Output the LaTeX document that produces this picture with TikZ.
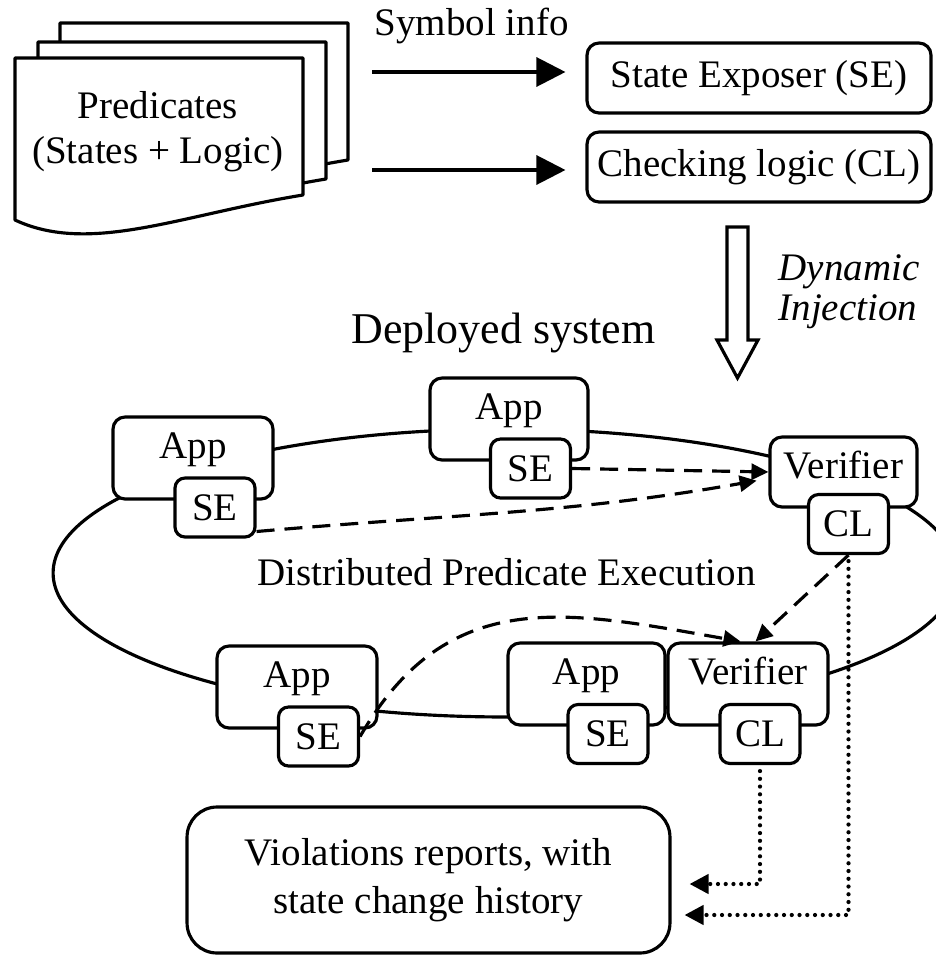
\documentclass[tikz,border=0pt]{standalone}
\usepackage{fontspec}
\setmainfont{Liberation Serif}
\usetikzlibrary{arrows.meta}

\begin{document}
\begin{tikzpicture}[x=0.02cm, y=0.02cm, % 1 Einheit = 1 Pixel
  font=\fontsize{22.2}{25.6}\selectfont,
  line width=1.8pt,
  page/.style={fill=white, line join=round},
  defbox/.style={draw, fill=white, rounded corners=0.24cm, minimum width=6.88cm, minimum height=1.4cm, inner sep=0pt},
  appbox/.style={draw, fill=white, rounded corners=0.24cm, minimum width=3.2cm, minimum height=1.64cm, inner sep=0pt, text height=0.5cm, text depth=0.5cm},
  tagbox/.style={draw, fill=white, rounded corners=0.2cm, minimum width=1.6cm, minimum height=1.18cm, inner sep=0pt},
  solidarrow/.style={-{Triangle[length=0.58cm, width=0.58cm]}},
  dasharrow/.style={dash pattern=on 0.36cm off 0.2cm, -{Triangle[length=0.34cm, width=0.32cm]}},
  dotarrow/.style={line width=2.4pt, dash pattern=on 0pt off 0.155cm, line cap=round, -{Triangle[length=0.38cm, width=0.38cm]}},
]

  \useasboundingbox (0,0) rectangle (936,-957);
  \clip (0,0) rectangle (936,-957);

  % Stapel mit drei Blaettern, hinterstes zuerst
  \foreach \dx/\dy in {45/35, 23/16, 0/0} {
    \begin{scope}[shift={(\dx,\dy)}]
      \filldraw[page] (15,-58) -- (303,-58) -- (303,-195)
        .. controls (180,-215) and (90,-255) .. (15,-220) -- cycle;
    \end{scope}
  }
  \node[align=center] (pred) at (158,-131.5) {Predicates\\(States + Logic)};

  % Pfeile zu SE und CL
  \node[anchor=base west, inner sep=0pt] (symInfo) at (373,-35) {Symbol info};
  \node[defbox] (seDef) at (759,-78) {State Exposer (SE)};
  \node[defbox] (clDef) at (759,-167) {Checking logic (CL)};
  \coordinate (in1) at (372,-72);
  \coordinate (in2) at (372,-170);
  \draw[solidarrow, shorten >=0.4cm] (in1) -- (in1 -| seDef.west);
  \draw[solidarrow, shorten >=0.4cm] (in2) -- (in2 -| clDef.west);

  % Hohlpfeil nach unten
  \draw[line join=miter] (727,-227) -- (748,-227) -- (748,-340) -- (758,-340)
    -- (737.5,-378) -- (717,-340) -- (727,-340) -- cycle;
  \node[align=left, anchor=west, inner sep=0pt, font=\fontsize{22.2}{25.6}\selectfont\itshape]
    (dynInj) at (777,-291.5) {Dynamic\\[-0.1cm]Injection};

  \node[anchor=base west, inner sep=0pt, font=\fontsize{25}{30}\selectfont] (deploy) at (350,-343) {Deployed system};

  % Ellipse des Systems
  \draw (505,-573) ellipse [x radius=9.04cm, y radius=2.88cm];
  \node[anchor=base, inner sep=0pt] (dpe) at (506.5,-585) {Distributed Predicate Execution};

  % Obere Reihe
  \node[appbox] (appA) at (193,-458) {App};
  \node[tagbox] (seA) at (215,-507.5) {SE};
  \node[appbox, minimum width=3.16cm] (appB) at (509,-419) {App};
  \node[tagbox] (seB) at (530.5,-468.5) {SE};
  \node[appbox, minimum width=2.94cm, minimum height=1.4cm, text height=0.62cm, text depth=0.38cm] (verT) at (843.5,-472) {Verifier};
  \node[tagbox] (clT) at (848.5,-524) {CL};

  % Untere Reihe
  \node[appbox] (appC) at (297,-687) {App};
  \node[tagbox] (seC) at (318.5,-736.5) {SE};
  \node[appbox, minimum width=3.14cm] (appD) at (586.5,-684) {App};
  \node[tagbox] (seD) at (608,-734) {SE};
  \node[appbox] (verB) at (748,-684) {Verifier};
  \node[tagbox] (clB) at (760,-734) {CL};

  % Bericht
  \node[draw, rounded corners=0.6cm, minimum width=9.66cm, minimum height=2.92cm, align=center, inner sep=0pt]
    (rep) at (428.5,-880) {Violations reports, with\\[2pt]state change history};

  % Gestrichelte Pfeile
  \draw[dasharrow] (seB.east) -- (verT.west);
  \draw[dasharrow, shorten >=0.24cm] (seA.-30) to[out=5, in=190] (verT.185);
  \draw[dasharrow] (seC.east) to[out=60, in=170, looseness=1.15] (verB.100);
  \draw[dasharrow] (clT.south) -- (verB.80);

  % Gepunktete Pfeile zum Bericht
  \draw[dotarrow, shorten <=0.12cm] (clB.south) |- ([xshift=0.36cm, yshift=-0.08cm]rep.east);
  \draw[dotarrow, shorten <=0.12cm] (clT.south) |- ([xshift=0.26cm, yshift=-0.7cm]rep.east);
\end{tikzpicture}
\end{document}
